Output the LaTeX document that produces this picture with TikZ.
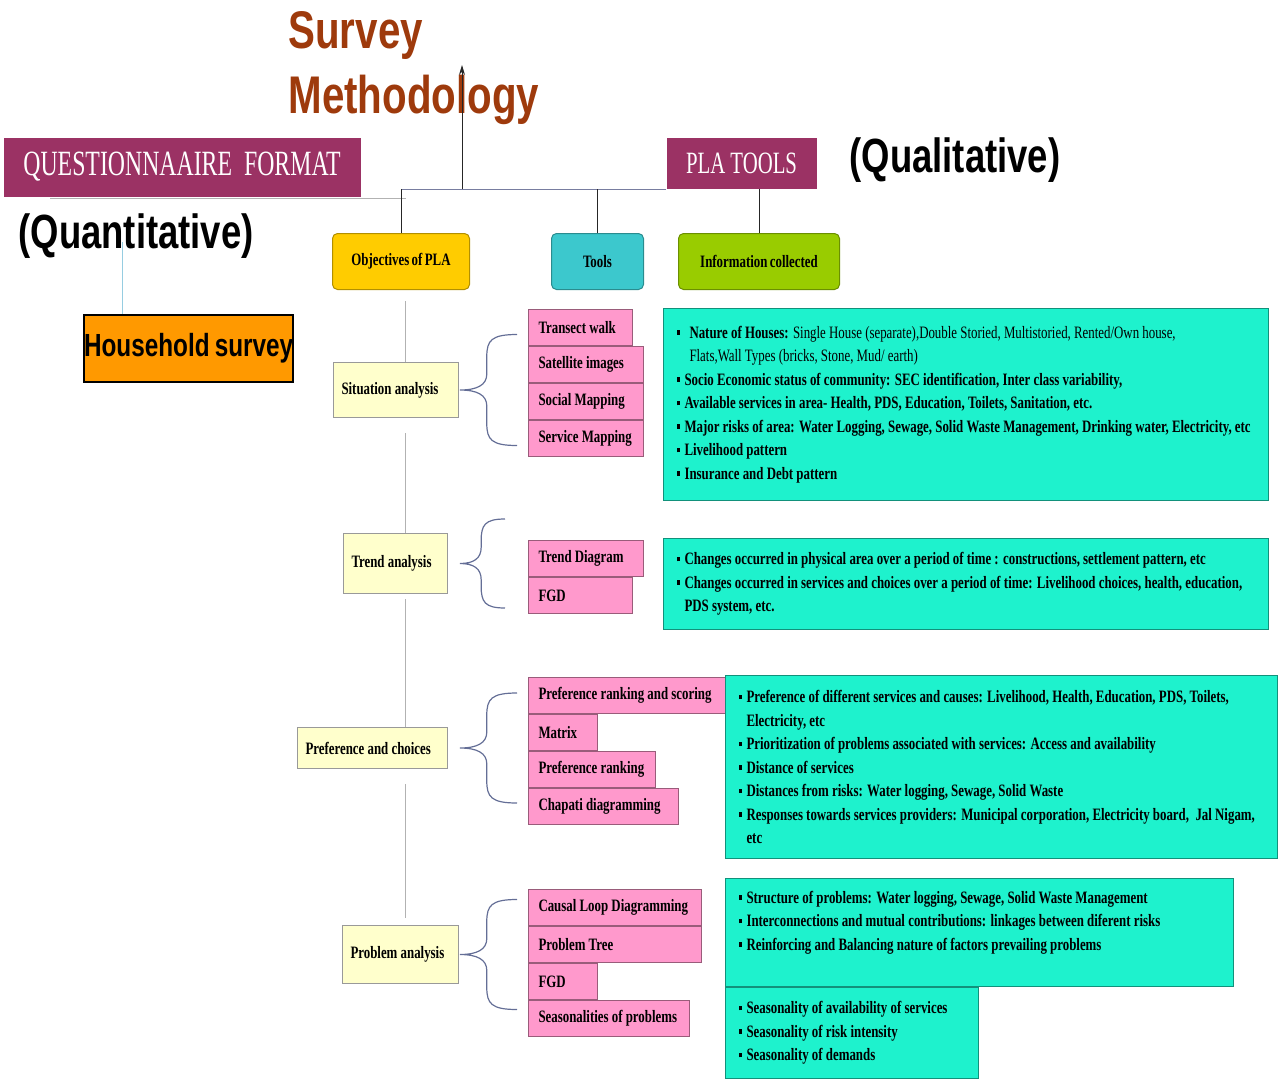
\documentclass[tikz,border=0pt]{standalone}
\usepackage{fontspec}
\setmainfont{Liberation Serif}[FakeStretch=0.74,WordSpace=0.74]
\newfontfamily\headfont{Liberation Sans}[FakeStretch=0.76,WordSpace=0.76]
\newfontfamily\formfont{Liberation Serif}[FakeStretch=0.67]
\usetikzlibrary{arrows.meta,calc}

\definecolor{titlebrown}{RGB}{158,58,12}
\definecolor{plamaroon}{RGB}{155,50,100}
\definecolor{objgold}{RGB}{255,204,0}
\definecolor{toolcyan}{RGB}{60,200,205}
\definecolor{infogreen}{RGB}{153,204,0}
\definecolor{hsorange}{RGB}{255,153,0}
\definecolor{anacream}{RGB}{255,255,204}
\definecolor{toolpink}{RGB}{255,153,204}
\definecolor{infoteal}{RGB}{30,242,205}
\definecolor{bracegray}{RGB}{100,110,150}
\definecolor{barslate}{RGB}{120,125,160}
\definecolor{qblue}{RGB}{150,205,225}

\newcommand\plab{\bfseries\fontsize{17.4}{23.5}\selectfont}
\newcommand\plaspace{\spaceskip=0.185em plus 0.06em minus 0.03em\xspaceskip=0.25em\relax}
\newcommand\bl[1]{\mbox{\makebox[8pt][l]{\rule[3.5pt]{3.5pt}{4.5pt}}#1}}
\newcommand\cl[1]{\mbox{\hspace{8pt}#1}}

\begin{document}
\begin{tikzpicture}[
          x=1pt, y=-1pt, line width=1pt,
          headline/.style={text=titlebrown,font=\headfont\bfseries\fontsize{53}{65}\selectfont,align=left,anchor=base west,inner sep=0},
          quality/.style={font=\headfont\bfseries\fontsize{48}{50}\selectfont,anchor=base west,inner sep=0},
          formatbox/.style={fill=plamaroon,text=white,anchor=north west,inner sep=0,font=\formfont\fontsize{#1}{#1}\selectfont},
          topbox/.style={fill=#1,draw=#1!70!black,rounded corners=5,anchor=north west,minimum height=56,inner sep=0,font=\plab},
          anabox/.style={fill=anacream,draw=black!40,anchor=north west,inner xsep=8,inner ysep=0,text width=#1,align=left,font=\plab,
            execute at begin node=\plaspace},
          toolbox/.style={fill=toolpink,draw=toolpink!60!black,anchor=north west,minimum height=36,inner xsep=10,inner ysep=0,
            text width=#1,align=left,font=\plab,execute at begin node=\hbox\bgroup\plaspace,execute at end node=\egroup},
          infobox/.style={fill=infoteal,draw=infoteal!60!black,anchor=north west,inner xsep=13,inner ysep=0,text width=#1,align=left,font=\plab,
            execute at begin node=\plaspace},
          link/.style={draw=black!85},
          barline/.style={draw=barslate},
          vline/.style={draw=black!30},
          brc/.style={draw=bracegray,line width=1.2pt},
          pics/plabrace/.style n args={2}{code={
            \draw[brc] (#2,-#1/2) .. controls (#2*0.55,-#1/2) and (#2*0.47,-#1/2+6) .. (#2*0.47,-#1/2+22)
              -- (#2*0.47,-16) .. controls (#2*0.47,-5) and (#2*0.3,0) .. (0,0)
              .. controls (#2*0.3,0) and (#2*0.47,5) .. (#2*0.47,16)
              -- (#2*0.47,#1/2-22) .. controls (#2*0.47,#1/2-6) and (#2*0.55,#1/2) .. (#2,#1/2);
          }},
        ]

        \useasboundingbox (0,0) rectangle (1278,1080);

        % heading and the two sides
        \node[headline] (title) at (288,113) {Survey\\Methodology};
        \node[formatbox=35.5,minimum width=357,minimum height=59] (qf) at (3,137) {QUESTIONNAAIRE\hspace{12pt}FORMAT};
        \node[formatbox=31,minimum width=150,minimum height=51] (pla) at (666,137) {PLA TOOLS};
        \node[quality] (qual) at (849,172) {(Qualitative)};
        \node[quality] (quant) at (18,248) {(Quantitative)};
        \node[draw=black,line width=2,fill=hsorange,anchor=north west,minimum width=208,minimum height=67,inner sep=0,
          font=\headfont\bfseries\fontsize{32}{32}\selectfont] (hs) at (83,314) {Household survey};

        \node[topbox=objgold,minimum width=137] (obj) at (332,233) {Objectives of PLA};
        \node[topbox=toolcyan,minimum width=92] (tools) at (551,233) {Tools};
        \node[topbox=infogreen,minimum width=161] (info) at (678,233) {Information collected};

        \coordinate (bar) at (400,189);
        \coordinate (up) at (462,65);
        \coordinate (qt) at (122,242);
        \draw[vline] ([xshift=47pt,yshift=-1pt]qf.south west) -- ++(356,0);
        \draw[barline] (obj.north |- bar) -- (bar -| pla.west);
        \draw[link] (obj.north) -- (obj.north |- bar);
        \draw[link] (tools.north) -- (tools.north |- bar);
        \draw[link] (info.north) -- (info.north |- pla.south);
        \draw[link,-{Stealth[length=10pt,width=6pt]}] (up |- bar) -- (up);
        \draw[draw=qblue] (qt) -- (qt |- hs.north);

        % objectives
        \node[anabox=109,minimum height=55] (sit) at (333,362) {Situation analysis};
        \node[anabox=88,minimum height=60] (trend) at (343,533) {Trend analysis};
        \node[anabox=134,minimum height=41] (pref) at (297,727) {Preference and choices};
        \node[anabox=100,minimum height=58] (prob) at (342,925) {Problem analysis};

        \coordinate (spine) at (405,0);
        \draw[vline] ($(obj.south -| spine)+(0,11)$) -- (sit.north -| spine);
        \draw[vline] ($(sit.south -| spine)+(0,15)$) -- (trend.north -| spine);
        \draw[vline] ($(trend.south -| spine)+(0,5)$) -- (pref.north -| spine);
        \draw[vline] ($(pref.south -| spine)+(0,15)$) -- ($(prob.north -| spine)+(0,-7)$);

        % tools
        \node[toolbox=84] (walk) at (528,309) {Transect walk};
        \node[toolbox=95] (sat) at (walk.south west) {Satellite images};
        \node[toolbox=95] (social) at (sat.south west) {Social Mapping};
        \node[toolbox=95] (service) at (social.south west) {Service Mapping};

        \node[toolbox=95] (tdiag) at (528,540) {Trend Diagram};
        \node[toolbox=84] (fgd) at (tdiag.south west) {FGD};

        \node[toolbox=177] (prs) at (528,677) {Preference ranking and scoring};
        \node[toolbox=49] (matrix) at (prs.south west) {Matrix};
        \node[toolbox=107] (prank) at (matrix.south west) {Preference ranking};
        \node[toolbox=130] (chapati) at (prank.south west) {Chapati diagramming};

        \node[toolbox=153] (causal) at (528,889) {Causal Loop Diagramming};
        \node[toolbox=153] (ptree) at (causal.south west) {Problem Tree};
        \node[toolbox=49] (fgdb) at (ptree.south west) {FGD};
        \node[toolbox=141] (season) at (fgdb.south west) {Seasonalities of problems};

        \coordinate (tipx) at (460,0);
        \pic at (sit.east -| tipx) {plabrace={111}{57}};
        \pic at (trend.east -| tipx) {plabrace={89}{45}};
        \pic at (pref.east -| tipx) {plabrace={110}{57}};
        \pic at (prob.east -| tipx) {plabrace={110}{57}};

        % information collected
        \node[infobox=579,minimum height=192] (sitinfo) at (663,308) {%
          \bl{\hspace{5pt}Nature of Houses: \mdseries Single House (separate),Double Storied, Multistoried, Rented/Own house,}\\
          \cl{\hspace{5pt}\mdseries Flats,Wall Types (bricks, Stone, Mud/ earth)}\\
          \bl{Socio Economic status of community: SEC identification, Inter class variability,}\\
          \bl{Available services in area- Health, PDS, Education, Toilets, Sanitation, etc.}\\
          \bl{Major risks of area: Water Logging, Sewage, Solid Waste Management, Drinking water, Electricity, etc}\\
          \bl{Livelihood pattern}\\
          \bl{Insurance and Debt pattern}};
        \node[infobox=579,minimum height=91] (trendinfo) at (663,538) {%
          \bl{Changes occurred in physical area over a period of time : constructions, settlement pattern, etc}\\
          \bl{Changes occurred in services and choices over a period of time: Livelihood choices, health, education,}\\
          \cl{PDS system, etc.}};
        \node[infobox=526,minimum height=183] (prefinfo) at (725,675) {%
          \bl{Preference of different services and causes: Livelihood, Health, Education, PDS, Toilets,}\\
          \cl{Electricity, etc}\\
          \bl{Prioritization of problems associated with services: Access and availability}\\
          \bl{Distance of services}\\
          \bl{Distances from risks: Water logging, Sewage, Solid Waste}\\
          \bl{Responses towards services providers: Municipal corporation, Electricity board,\ \ Jal Nigam,}\\
          \cl{etc}};
        \node[infobox=482,minimum height=108] (probinfo) at (725,878) {%
          \bl{Structure of problems: Water logging, Sewage, Solid Waste Management}\\
          \bl{Interconnections and mutual contributions: linkages between diferent risks}\\
          \bl{Reinforcing and Balancing nature of factors prevailing problems}\\
          \mbox{}};
        \node[infobox=227,minimum height=91] (seasoninfo) at (725,987) {%
          \bl{Seasonality of availability of services}\\
          \bl{Seasonality of risk intensity}\\
          \bl{Seasonality of demands}};

      \end{tikzpicture}
\end{document}
